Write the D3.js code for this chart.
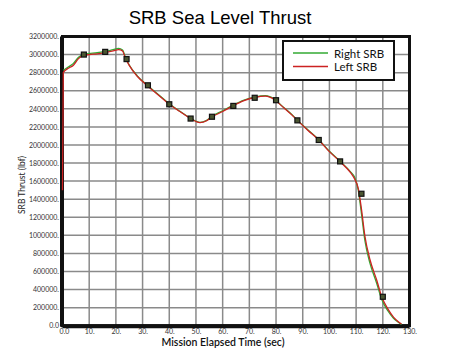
<!DOCTYPE html>
<html>
<head>
<meta charset="utf-8">
<script src="https://cdn.jsdelivr.net/npm/d3@7"></script>
<style>
body { margin: 0; background: #fff; }
</style>
</head>
<body>
<div id="chart"></div>
<script>
// mission elapsed time (sec)
var times = [0, 0.3, 2, 4, 6, 8, 10, 13, 16, 19, 21, 22.5, 23.5, 25, 28, 32, 36, 40, 44, 48, 51.5, 54, 56, 60, 64, 68, 72, 76, 79.5, 82, 86, 88, 92, 96, 100, 104, 108, 109.5, 110.8, 112, 113.3, 115.2, 117.7, 119.6, 122, 124, 125.8, 127];
var leftSRB = [1500000, 2800000, 2845000, 2880000, 2955000, 2990000, 3000000, 3008000, 3022000, 3040000, 3055000, 3040000, 2965000, 2880000, 2760000, 2650000, 2550000, 2450000, 2370000, 2292000, 2248000, 2268000, 2310000, 2370000, 2435000, 2490000, 2525000, 2540000, 2500000, 2435000, 2330000, 2272000, 2160000, 2055000, 1926000, 1815000, 1690000, 1620000, 1520000, 1290000, 990000, 730000, 506000, 320000, 180000, 95000, 44000, 18000];
var rightSRB = [2820000, 2825000, 2860000, 2900000, 2970000, 3005000, 3012000, 3020000, 3035000, 3055000, 3068000, 3050000, 2975000, 2885000, 2765000, 2655000, 2555000, 2455000, 2372000, 2295000, 2250000, 2272000, 2318000, 2378000, 2442000, 2496000, 2530000, 2545000, 2505000, 2438000, 2335000, 2275000, 2165000, 2058000, 1930000, 1820000, 1700000, 1640000, 1500000, 1240000, 940000, 690000, 470000, 290000, 160000, 82000, 38000, 15000];
var markerTimes = [8, 16, 24, 32, 40, 48, 56, 64, 72, 80, 88, 96, 104, 112, 120];
var markerValues = [3000000, 3030000, 2950000, 2660000, 2450000, 2292000, 2312000, 2432000, 2522000, 2495000, 2272000, 2055000, 1818000, 1460000, 320000];

var xTicks = d3.range(0, 131, 10);
var yTicks = d3.range(0, 3200001, 200000);

var w = 450, h = 361;
var pLeft = 62.5, pRight = 409.5, pTop = 36.5, pBottom = 325.7;

var svg = d3.select('#chart').append('svg')
	.attr('width', w).attr('height', h);

var x = d3.scaleLinear().domain([0, 130]).range([pLeft, pRight]);
var y = d3.scaleLinear().domain([0, 3200000]).range([pBottom, pTop]);

svg.append('text')
	.text('SRB Sea Level Thrust')
	.attr('x', 220).attr('y', 23.5)
	.attr('text-anchor', 'middle')
	.attr('font-family', 'Liberation Sans, Arial, sans-serif')
	.attr('font-size', '18.5px');

// grid
svg.append('g').selectAll('line')
	.data(xTicks.slice(1, -1))
	.enter().append('line')
	.attr('x1', function(d) { return x(d); })
	.attr('x2', function(d) { return x(d); })
	.attr('y1', pTop).attr('y2', pBottom)
	.attr('stroke', '#8a8a8a').attr('stroke-width', 1.5);

svg.append('g').selectAll('line')
	.data(yTicks.slice(1, -1))
	.enter().append('line')
	.attr('y1', function(d) { return y(d); })
	.attr('y2', function(d) { return y(d); })
	.attr('x1', pLeft).attr('x2', pRight)
	.attr('stroke', '#8a8a8a').attr('stroke-width', 1.5);

// axes labels
var xAxis = d3.axisBottom(x).tickValues(xTicks).tickSize(0)
	.tickFormat(function(d) { return d === 0 ? '0.0' : d + '.'; });
var gx = svg.append('g').attr('transform', 'translate(0,' + (pBottom + 1) + ')').call(xAxis);
gx.select('.domain').remove();
gx.selectAll('text')
	.attr('font-family', 'Lato, sans-serif').attr('font-size', '7px')
	.attr('fill', '#333').attr('dy', '0.35em').attr('y', 5);
gx.selectAll('text').filter(function(d) { return d === 0; }).attr('dx', 1.5);

var yAxis = d3.axisLeft(y).tickValues(yTicks).tickSize(0)
	.tickFormat(function(d) { return d === 0 ? '0.0' : d + '.'; });
var gy = svg.append('g').attr('transform', 'translate(' + (pLeft - 3.5) + ',0)').call(yAxis);
gy.select('.domain').remove();
gy.selectAll('text')
	.attr('font-family', 'Lato, sans-serif').attr('font-size', '7px')
	.attr('fill', '#333').attr('x', 0);

// frame
svg.append('rect')
	.attr('x', pLeft).attr('y', pTop)
	.attr('width', pRight - pLeft).attr('height', pBottom - pTop)
	.attr('fill', 'none').attr('stroke', '#111').attr('stroke-width', 3);
svg.append('line')
	.attr('x1', pLeft - 0.5).attr('x2', pLeft - 0.5).attr('y1', pTop).attr('y2', pBottom + 1)
	.attr('stroke', '#111').attr('stroke-width', 4);
svg.append('line')
	.attr('x1', pLeft).attr('x2', pRight).attr('y1', pBottom + 0.5).attr('y2', pBottom + 0.5)
	.attr('stroke', '#111').attr('stroke-width', 4);

svg.append('text')
	.text('Mission Elapsed Time (sec)')
	.attr('x', 223).attr('y', 346)
	.attr('text-anchor', 'middle')
	.attr('font-family', 'Lato, sans-serif')
	.attr('font-weight', '600')
	.attr('font-size', '10.5px').attr('fill', '#111');

svg.append('text')
	.text('SRB Thrust (lbf)')
	.attr('transform', 'translate(25,185) rotate(-90)')
	.attr('text-anchor', 'middle')
	.attr('font-family', 'Lato, sans-serif')
	.attr('font-size', '8.5px').attr('fill', '#222');

// legend
svg.append('rect')
	.attr('x', 283).attr('y', 41).attr('width', 111).attr('height', 39)
	.attr('fill', '#fff').attr('stroke', '#111').attr('stroke-width', 2);
var legend = [['Right SRB', '#33aa33'], ['Left SRB', '#cc2222']];
legend.forEach(function(l, i) {
	svg.append('line')
		.attr('x1', 293).attr('x2', 328)
		.attr('y1', 53 + i * 13.5).attr('y2', 53 + i * 13.5)
		.attr('stroke', l[1]).attr('stroke-width', 1.5);
	svg.append('text')
		.text(l[0])
		.attr('x', 334).attr('y', 57.5 + i * 13.5)
		.attr('font-family', 'Lato, sans-serif')
		.attr('font-size', '11.5px').attr('fill', '#111');
});

// curves
var line = d3.line()
	.x(function(d) { return x(d[0]); })
	.y(function(d) { return y(d[1]); })
	.curve(d3.curveMonotoneX);

svg.append('path')
	.attr('d', line(d3.zip(times.slice(1), rightSRB.slice(1))))
	.attr('fill', 'none').attr('stroke', '#33aa33').attr('stroke-width', 1.3);

svg.append('path')
	.attr('d', line(d3.zip(times, leftSRB)))
	.attr('fill', 'none').attr('stroke', '#cc2222').attr('stroke-width', 1.3);

// markers
svg.append('g').selectAll('rect')
	.data(d3.zip(markerTimes, markerValues))
	.enter().append('rect')
	.attr('x', function(d) { return x(d[0]) - 2.5; })
	.attr('y', function(d) { return y(d[1]) - 2.5; })
	.attr('width', 5).attr('height', 5)
	.attr('fill', '#4a5530').attr('stroke', '#111').attr('stroke-width', 1.2);
</script>
</body>
</html>
